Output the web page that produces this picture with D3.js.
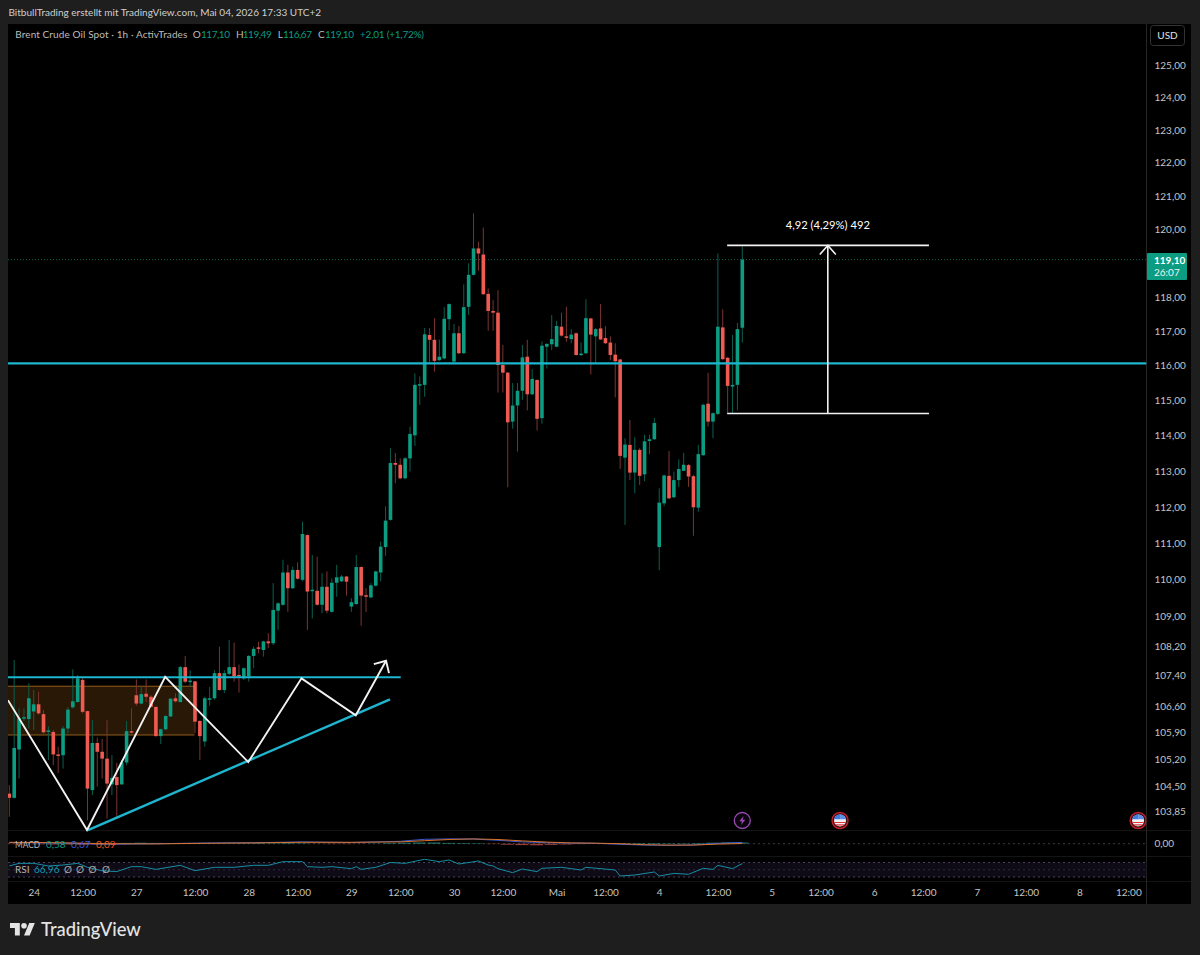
<!DOCTYPE html>
<html>
<head>
<meta charset="utf-8">
<script src="https://cdn.jsdelivr.net/npm/d3@7"></script>
<style>
  html, body { margin: 0; padding: 0; background: #1e1e1e; }
  svg { display: block; }
  text { font-family: "Lato", "Open Sans", sans-serif; }
</style>
</head>
<body>
<div id="chart"></div>
<script>
// Bars (1h Brent)
var opens = [
  104.30,104.19,105.45,106.27,106.25,106.45,106.64,106.38,105.93,105.91,
  105.32,105.30,106.00,106.56,106.70,107.29,106.46,104.39,105.62,105.39,
  105.21,104.54,104.73,104.54,105.11,105.93,106.88,106.66,106.92,106.84,
  106.57,105.80,105.98,106.32,106.80,106.70,107.63,107.23,107.25,106.20,
  105.66,106.78,106.80,107.47,107.02,107.45,107.63,107.42,107.33,107.38,
  107.93,108.16,108.09,108.32,108.27,109.15,109.31,110.19,109.76,110.26,
  109.99,111.22,109.68,109.69,109.31,109.80,109.12,109.91,109.95,110.08,
  109.26,109.33,110.34,109.57,109.51,109.83,110.19,110.89,111.64,113.23,
  113.18,112.80,113.36,114.01,115.43,115.45,116.89,116.75,116.16,116.21,
  117.35,116.12,116.94,116.36,117.71,118.65,119.43,119.25,118.09,117.59,
  117.54,116.02,115.80,114.40,114.86,115.28,116.26,115.18,115.59,114.50,
  116.55,116.62,116.55,117.13,116.85,116.77,116.94,116.31,116.36,117.37,
  116.85,117.08,116.80,116.67,116.32,116.18,113.38,113.74,112.96,113.60,
  112.91,113.85,113.90,110.89,112.10,112.87,112.27,112.75,113.01,113.17,
  112.86,111.98,113.45,114.91,114.40,114.62,117.11,116.23,115.40,115.45,
  117.10];
var highs = [
  104.52,107.82,106.53,106.53,107.20,107.02,106.97,106.49,106.06,105.96,
  105.52,106.06,106.57,107.57,107.42,107.33,106.47,106.22,105.76,105.73,
  106.22,105.30,105.10,105.17,106.20,106.53,107.30,107.11,107.30,106.88,
  106.59,106.00,106.35,106.80,106.93,107.66,107.93,107.55,107.26,106.22,
  106.84,107.10,107.55,108.18,107.55,108.36,108.29,107.70,107.62,107.95,
  108.18,108.31,108.34,108.54,109.90,109.38,110.54,110.40,110.35,110.47,
  111.59,111.24,110.67,110.63,110.17,110.22,110.03,110.40,110.12,110.10,
  109.49,110.67,110.36,109.76,109.90,110.24,111.04,112.02,113.65,113.51,
  113.36,113.40,114.26,115.78,115.69,117.09,117.09,117.38,116.76,117.70,
  117.81,117.21,117.15,118.37,118.99,120.48,119.63,120.05,118.25,117.91,
  118.20,116.60,115.82,115.50,115.50,116.60,116.75,115.90,115.61,116.70,
  116.65,117.47,117.30,117.54,117.71,117.06,116.96,116.67,117.93,117.39,
  117.09,117.79,117.15,116.85,116.65,116.20,113.93,114.45,113.96,113.65,
  114.03,114.03,114.50,112.52,112.90,113.57,112.99,113.33,113.52,113.20,
  112.90,113.74,114.91,115.80,114.66,119.28,117.64,116.25,116.89,117.24,
  119.49];
var lows = [
  103.70,104.17,104.69,106.20,106.00,105.96,106.37,105.87,105.17,105.04,
  104.84,104.95,105.87,106.53,106.69,106.40,103.61,104.26,104.48,104.69,
  103.66,104.26,103.66,104.52,105.04,105.87,106.60,106.64,106.70,106.56,
  105.79,105.59,105.96,106.30,106.69,106.69,107.20,107.11,105.88,105.17,
  105.52,106.60,106.76,107.00,106.94,107.42,107.24,106.95,107.29,107.24,
  107.60,108.00,107.91,108.14,108.22,108.63,109.28,109.12,109.74,110.00,
  109.95,108.63,108.94,109.29,109.08,109.08,109.10,109.53,109.93,109.56,
  109.12,109.31,108.74,109.11,109.49,109.81,109.95,110.65,111.62,112.66,
  112.77,112.77,112.99,113.71,114.88,115.11,116.10,115.83,116.14,116.18,
  117.03,116.10,116.34,116.34,117.47,118.63,118.77,118.06,117.01,117.01,
  115.23,115.23,112.55,114.20,113.55,115.02,114.72,115.16,114.15,114.34,
  115.92,116.45,116.53,116.84,116.69,116.65,116.29,116.28,116.34,115.75,
  116.09,116.75,116.63,116.16,115.09,113.06,111.50,112.75,112.38,112.61,
  112.72,113.48,113.88,110.25,112.02,112.22,112.24,112.56,113.00,112.56,
  111.20,111.87,113.43,114.26,113.93,114.59,116.16,114.64,114.64,114.72,
  116.67];
var closes = [
  104.19,105.49,106.27,106.30,106.80,106.64,106.40,105.90,105.95,105.32,
  105.30,106.00,106.50,106.72,107.33,106.44,104.43,105.62,105.39,105.21,
  104.56,104.71,104.52,105.11,105.93,105.91,106.66,106.91,106.84,106.57,
  105.80,105.98,106.33,106.79,106.72,107.63,107.24,107.27,106.18,105.80,
  106.80,106.80,107.47,107.02,107.47,107.63,107.38,107.38,107.60,107.93,
  108.12,108.12,108.32,108.27,109.17,109.35,110.19,109.76,110.26,110.02,
  111.25,109.67,109.72,109.31,109.80,109.15,109.91,110.06,110.08,109.94,
  109.38,110.34,109.56,109.54,109.84,110.22,110.90,111.62,113.23,113.18,
  112.80,113.36,114.05,115.45,115.47,116.91,116.75,116.14,116.26,117.36,
  117.79,116.94,116.36,117.70,118.65,119.43,119.28,118.08,117.59,117.54,
  116.02,115.80,114.38,114.86,115.28,116.24,115.18,115.62,114.48,116.58,
  116.63,116.77,117.15,116.87,116.81,116.90,116.31,116.35,117.38,116.90,
  117.06,116.76,116.65,116.31,116.13,113.43,113.75,112.96,113.60,112.87,
  113.84,113.90,114.36,112.12,112.88,112.24,112.75,113.06,113.18,112.85,
  111.99,113.48,114.88,114.40,114.64,117.13,116.19,115.42,115.45,117.06,
  119.10];

// Axes
var priceTicks = [125,124,123,122,121,120,118,117,116,115,114,113,112,111,110,109,108.2,107.4,106.6,105.9,105.2,104.5,103.85];
var timeTicks = [5,15,26,38,49,59,70,80,91,101,112,122,133,145,156,166,177,187,198,208,219,229];
var timeLabels = ["24","12:00","27","12:00","28","12:00","29","12:00","30","12:00","Mai","12:00","4","12:00","5","12:00","6","12:00","7","12:00","8","12:00"];

// Indicators, read at the bars where the line turns
var rsiBars = [0,2,5,8,11,14,16,19,22,25,27,30,35,38,42,46,50,53,56,60,61,64,66,70,71,72,75,78,81,85,88,90,92,96,98,99,100,103,105,108,109,113,117,118,124,125,128,132,133,136,139,142,144,145,148,150];
var rsiValues = [60.4,67.7,67.7,60.4,63.1,67.7,56.7,47,45,58.5,58.5,51,62.2,47.5,56.7,56.7,62.2,62.2,72.3,72.3,58.5,56.7,58.5,53,58.5,51,56.7,70,67.7,78.8,72.3,77,65.9,74.2,63.1,60.4,53,42,52,44.7,54,56.7,49.3,56.7,49.3,32.8,35.5,43.8,32.8,40,37.5,53.9,51,62.2,53,66.96];
var macdBars = [0,10,20,30,40,50,60,70,80,85,90,95,100,105,110,115,120,125,130,135,140,145,150];
var macdValues = [0.6,0.3,-0.3,0,0.35,0.5,0.9,0.6,1.2,2.2,2.4,2.3,1.7,0.9,0.5,0.3,0.2,-0.3,-0.7,-0.8,-0.6,0.2,0.67];
var signalValues = [0.7,0.5,0,-0.1,0.2,0.4,0.7,0.7,0.9,1.5,2.1,2.4,2.1,1.4,0.8,0.4,0.25,0,-0.5,-0.7,-0.7,-0.2,0.09];
var histValues = [-.2,-.3,-.3,-.4,-.4,-.5,-.4,-.3,.4,.5,.4,.3,.2,.2,.1,.1,.2,.3,.2,.3,.2,-.1,-.2,-.2,-.1,.1,.3,.5,.6,.6,.4,.3,.2,-.2,-.5,-.7,-.8,-.6,-.4,-.2,-.1,.1,.2,.3,.3,.2,.2,.3,.5,.6,.58];

// Drawings on the chart: [bar, price]
var supportLevel = 107.36;
var midLevel = 116.07;
var zigzag = [[-0.27,106.75],[15.9,103.36],[31.9,107.37],[48.9,105.12],[59.8,107.33],[70.9,106.35],[77.1,107.80]];
var arrowHead = [[74.6,107.71],[77.1,107.80],[77.7,107.47]];
var trendLine = [[16.1,103.36],[77.9,106.77]];
var zoneBars = [-0.27,37.9];
var zonePrices = [107.12,105.83];
var measureBars = [146.9,188.2,167.5];
var measurePrices = [119.52,114.63];
var lastPrice = 119.10;

var svgWidth = 1200, svgHeight = 955;
var chartLeft = 8, axisLeft = 1146.5, chartRight = 1191;
var mainTop = 24, mainBottom = 830, macdBottom = 856, rsiBottom = 881, chartBottom = 904;
var fontBase = 10;

var colUp = "#0b9c82", colDown = "#ef5b52", wickUp = "#0b5f50", wickDown = "#7c3431";
var colCyan = "#1eb6cf", colWhite = "#f2f2f2", colText = "#c4c4c4";

var svg = d3.select("#chart").append("svg")
  .attr("width", svgWidth)
  .attr("height", svgHeight);

// Scales
var x = d3.scaleLinear().domain([0, 150]).range([9.3, 742.3]);
var y = d3.scaleLog().domain([103.85, 125]).range([811, 65]);
var yMacd = d3.scaleLinear().domain([-3, 3]).range([849.7, 837.7]);
var yRsi = d3.scaleLinear().domain([30, 70]).range([877, 862.5]);

// Frame
svg.append("rect").attr("x", chartLeft).attr("y", mainTop)
  .attr("width", chartRight - chartLeft).attr("height", chartBottom - mainTop).attr("fill", "#000");

var defs = svg.append("defs");
defs.append("clipPath").attr("id", "plotClip").append("rect")
  .attr("x", chartLeft).attr("y", mainTop).attr("width", axisLeft - chartLeft).attr("height", chartBottom - mainTop);

[mainBottom, macdBottom, rsiBottom].forEach(function(v) {
  svg.append("line").attr("x1", chartLeft).attr("x2", chartRight).attr("y1", v + 0.5).attr("y2", v + 0.5)
    .attr("stroke", "#141414");
});
svg.append("line").attr("x1", axisLeft).attr("x2", axisLeft).attr("y1", mainTop).attr("y2", chartBottom)
  .attr("stroke", "#262626");

var plot = svg.append("g").attr("clip-path", "url(#plotClip)");

// RSI band
plot.append("rect").attr("x", chartLeft).attr("width", axisLeft - chartLeft)
  .attr("y", yRsi(70)).attr("height", yRsi(30) - yRsi(70)).attr("fill", "#0e0a16");
[70, 50, 30].forEach(function(v) {
  plot.append("line").attr("x1", chartLeft).attr("x2", axisLeft).attr("y1", yRsi(v)).attr("y2", yRsi(v))
    .attr("stroke", "#4a3f5c").attr("stroke-dasharray", "2,3").attr("opacity", v === 50 ? 0.6 : 1);
});

// MACD zero line
plot.append("line").attr("x1", chartLeft).attr("x2", axisLeft).attr("y1", yMacd(0)).attr("y2", yMacd(0))
  .attr("stroke", "#3a3a3a").attr("stroke-dasharray", "2,3");

// Order zone sits behind the bars
plot.append("rect")
  .attr("x", x(zoneBars[0])).attr("width", x(zoneBars[1]) - x(zoneBars[0]))
  .attr("y", y(zonePrices[0])).attr("height", y(zonePrices[1]) - y(zonePrices[0]))
  .attr("fill", "#291805");
zonePrices.forEach(function(p) {
  plot.append("line").attr("x1", x(zoneBars[0])).attr("x2", x(zoneBars[1])).attr("y1", y(p)).attr("y2", y(p))
    .attr("stroke", "#935c1c").attr("stroke-width", 1);
});

// Last price line
plot.append("line").attr("x1", chartLeft).attr("x2", axisLeft).attr("y1", y(lastPrice)).attr("y2", y(lastPrice))
  .attr("stroke", "#0b5f50").attr("stroke-dasharray", "1,2");

// Bars
var bars = d3.range(opens.length).map(function(i) {
  return { i: i, o: opens[i], h: highs[i], l: lows[i], c: closes[i] };
});
var barWidth = 3.6;

plot.append("g").selectAll("line").data(bars).join("line")
  .attr("x1", function(d) { return x(d.i); })
  .attr("x2", function(d) { return x(d.i); })
  .attr("y1", function(d) { return y(d.h); })
  .attr("y2", function(d) { return y(d.l); })
  .attr("stroke", function(d) { return d.c >= d.o ? wickUp : wickDown; })
  .attr("stroke-width", 1);

plot.append("g").selectAll("rect").data(bars).join("rect")
  .attr("x", function(d) { return x(d.i) - barWidth / 2; })
  .attr("width", barWidth)
  .attr("y", function(d) { return y(Math.max(d.o, d.c)); })
  .attr("height", function(d) { return Math.max(1.5, Math.abs(y(d.o) - y(d.c))); })
  .attr("fill", function(d) { return d.c >= d.o ? colUp : colDown; });

// MACD
plot.append("g").selectAll("rect").data(histValues).join("rect")
  .attr("x", function(d, i) { return x(i * 3) - 7; })
  .attr("width", 13)
  .attr("y", function(d) { return Math.min(yMacd(d), yMacd(0)); })
  .attr("height", function(d) { return Math.abs(yMacd(d) - yMacd(0)); })
  .attr("fill", function(d) { return d >= 0 ? "#2b9d8c" : "#c9504a"; })
  .attr("opacity", 0.75);

var macdLine = d3.line()
  .x(function(d, i) { return x(macdBars[i]); })
  .y(function(d) { return yMacd(d); });

plot.append("path").datum(macdValues).attr("d", macdLine)
  .attr("fill", "none").attr("stroke", "#3a5ad6").attr("stroke-width", 1);
plot.append("path").datum(signalValues).attr("d", macdLine)
  .attr("fill", "none").attr("stroke", "#d9742a").attr("stroke-width", 1);

// RSI
plot.append("path").datum(rsiValues)
  .attr("d", d3.line()
    .x(function(d, i) { return x(rsiBars[i]); })
    .y(function(d) { return yRsi(d); }))
  .attr("fill", "none").attr("stroke", "#168ea3").attr("stroke-width", 1);

// Drawings
var pointLine = d3.line()
  .x(function(d) { return x(d[0]); })
  .y(function(d) { return y(d[1]); });

plot.append("line").attr("x1", chartLeft).attr("x2", axisLeft).attr("y1", y(midLevel)).attr("y2", y(midLevel))
  .attr("stroke", colCyan).attr("stroke-width", 2.2);
plot.append("line").attr("x1", chartLeft).attr("x2", x(80.1)).attr("y1", y(supportLevel)).attr("y2", y(supportLevel))
  .attr("stroke", colCyan).attr("stroke-width", 2.2);
plot.append("path").attr("d", pointLine(trendLine))
  .attr("fill", "none").attr("stroke", colCyan).attr("stroke-width", 2.4);
plot.append("path").attr("d", pointLine(zigzag))
  .attr("fill", "none").attr("stroke", colWhite).attr("stroke-width", 1.9);
plot.append("path").attr("d", pointLine(arrowHead))
  .attr("fill", "none").attr("stroke", colWhite).attr("stroke-width", 1.9);

// Range measure
measurePrices.forEach(function(p) {
  plot.append("line").attr("x1", x(measureBars[0])).attr("x2", x(measureBars[1])).attr("y1", y(p)).attr("y2", y(p))
    .attr("stroke", colWhite).attr("stroke-width", 1.6);
});
plot.append("line").attr("x1", x(measureBars[2])).attr("x2", x(measureBars[2]))
  .attr("y1", y(measurePrices[0])).attr("y2", y(measurePrices[1]))
  .attr("stroke", colWhite).attr("stroke-width", 1.6);
plot.append("path")
  .attr("d", d3.line()([[x(measureBars[2]) - 8, y(measurePrices[0]) + 9], [x(measureBars[2]), y(measurePrices[0])], [x(measureBars[2]) + 8, y(measurePrices[0]) + 9]]))
  .attr("fill", "none").attr("stroke", colWhite).attr("stroke-width", 1.6);
svg.append("text").attr("x", x(measureBars[2])).attr("y", 229).attr("text-anchor", "middle")
  .attr("fill", "#fff").attr("font-size", fontBase + 1.2).text("4,92 (4,29%) 492");

// Event markers
function eventMarker(bar) {
  var g = plot.append("g").attr("transform", "translate(" + x(bar) + ",820.5)");
  g.append("circle").attr("r", 8).attr("fill", "#3a0b0f").attr("stroke", "#c2202c").attr("stroke-width", 1.4);
  g.append("circle").attr("r", 6).attr("fill", "#f1f1f4");
  g.append("path").attr("d", "M-6,-1.2A6,6 0 0 1 0,-6V-1.2Z").attr("fill", "#3f7be0");
  g.append("path").attr("d", "M0,-6A6,6 0 0 1 6,-1.2H0Z").attr("fill", "#5b8fe6");
  g.append("path").attr("d", "M-5.6,2H5.6M-4,4.4H4").attr("stroke", "#e2363f").attr("stroke-width", 1.2);
}
var lightning = plot.append("g").attr("transform", "translate(" + x(150) + ",820.5)");
lightning.append("circle").attr("r", 8).attr("fill", "#0b0410").attr("stroke", "#9a4bb0").attr("stroke-width", 1.3);
lightning.append("path").attr("d", "M1.2,-4.6L-3,0.8H-0.4L-1.2,4.6L3,-0.8H0.4Z").attr("fill", "#9a4bb0");
eventMarker(170);
eventMarker(231);

// Price axis
var priceAxis = svg.append("g")
  .attr("transform", "translate(" + axisLeft + ",0)")
  .call(d3.axisRight(y).tickValues(priceTicks).tickSize(0).tickPadding(8)
    .tickFormat(function(d) { return d.toFixed(2).replace(".", ","); }));
priceAxis.select(".domain").remove();
priceAxis.selectAll("text").attr("fill", colText).attr("font-size", fontBase).attr("font-family", null);

var macdAxis = svg.append("g")
  .attr("transform", "translate(" + axisLeft + ",0)")
  .call(d3.axisRight(yMacd).tickValues([0]).tickSize(0).tickPadding(8)
    .tickFormat(function(d) { return d.toFixed(2).replace(".", ","); }));
macdAxis.select(".domain").remove();
macdAxis.selectAll("text").attr("fill", colText).attr("font-size", fontBase).attr("font-family", null);

// Time axis
var timeAxis = svg.append("g")
  .attr("transform", "translate(0," + rsiBottom + ")")
  .call(d3.axisBottom(x).tickValues(timeTicks).tickSize(0).tickPadding(8)
    .tickFormat(function(d, i) { return timeLabels[i]; }));
timeAxis.select(".domain").remove();
timeAxis.selectAll("text").attr("fill", colText).attr("font-size", fontBase).attr("font-family", null);

// Last price tag
svg.append("rect").attr("x", 1147).attr("y", 253).attr("width", 40).attr("height", 27).attr("rx", 1).attr("fill", colUp);
svg.append("text").attr("x", 1154).attr("y", 264).attr("fill", "#fff").attr("font-size", fontBase).attr("font-weight", 700)
  .text(lastPrice.toFixed(2).replace(".", ","));
svg.append("text").attr("x", 1154).attr("y", 276).attr("fill", "#e8f5f2").attr("font-size", fontBase).text("26:07");

// USD button
svg.append("rect").attr("x", 1150.5).attr("y", 25.5).attr("width", 34).attr("height", 20).attr("rx", 3)
  .attr("fill", "#000").attr("stroke", "#333");
svg.append("text").attr("x", 1167.5).attr("y", 39).attr("text-anchor", "middle").attr("fill", "#e0e0e0")
  .attr("font-size", fontBase).text("USD");

// Header and legends
svg.append("text").attr("x", 8.5).attr("y", 16).attr("fill", "#cfcfcf").attr("font-size", fontBase)
  .text("BitbullTrading erstellt mit TradingView.com, Mai 04, 2026 17:33 UTC+2");

function legend(px, py, color, label) {
  return svg.append("text").attr("x", px).attr("y", py).attr("fill", color).attr("font-size", fontBase).text(label);
}
legend(15.3, 38, "#bdbdbd", "Brent Crude Oil Spot · 1h · ActivTrades").attr("textLength", 172);
legend(192.7, 38, "#bdbdbd", "O");
legend(201, 38, colUp, "117,10").attr("textLength", 29);
legend(236, 38, "#bdbdbd", "H");
legend(242.7, 38, colUp, "119,49").attr("textLength", 29);
legend(277.7, 38, "#bdbdbd", "L");
legend(283, 38, colUp, "116,67").attr("textLength", 29);
legend(318, 38, "#bdbdbd", "C");
legend(325, 38, colUp, "119,10").attr("textLength", 29);
legend(360, 38, colUp, "+2,01 (+1,72%)").attr("textLength", 64);

legend(15, 848, "#b5b5b5", "MACD").attr("textLength", 25).attr("lengthAdjust", "spacingAndGlyphs");
legend(46, 848, colUp, "0,58");
legend(71, 848, "#3f5ee0", "0,67");
legend(96, 848, "#f0561d", "0,09");

legend(15, 873, "#b5b5b5", "RSI");
legend(34, 873, "#149db3", "66,96");
[68, 80, 92.5, 106].forEach(function(px) {
  svg.append("text").attr("x", px).attr("y", 873).attr("text-anchor", "middle").attr("fill", "#a8a8a8")
    .attr("font-size", fontBase).text("Ø");
});

// TradingView logo
svg.append("g").attr("transform", "translate(10,920.2) scale(0.7)")
  .call(function(g) {
    g.append("path").attr("d", "M14 22H7V11H0V4h14v18zM28 22h-8l7.5-18h8L28 22z").attr("fill", "#e4e4e4");
    g.append("circle").attr("cx", 20).attr("cy", 8).attr("r", 4).attr("fill", "#e4e4e4");
  });
svg.append("text").attr("x", 41).attr("y", 935.5).attr("fill", "#e4e4e4").attr("font-size", 18.4).attr("font-weight", 500)
  .text("TradingView");
</script>
</body>
</html>
